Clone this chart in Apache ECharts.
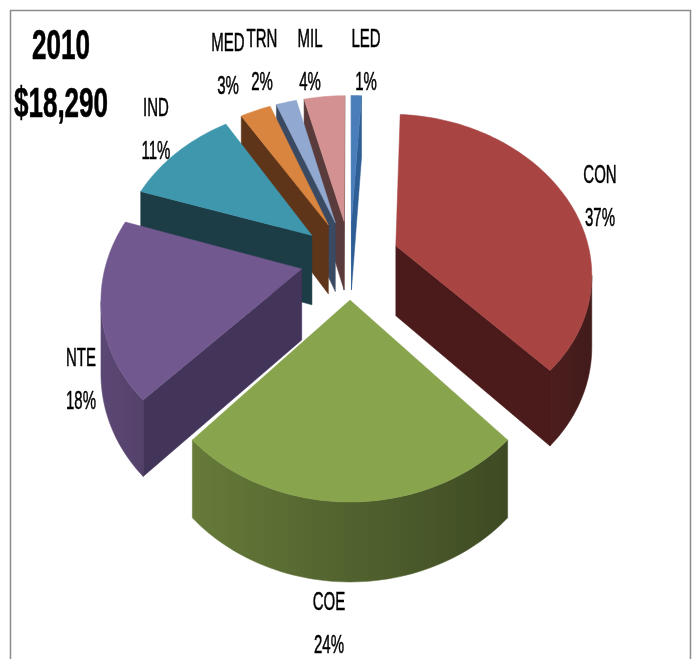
<!DOCTYPE html>
<html lang="en">

<head>
    <meta charset="UTF-8">
    <title>2010</title>
    <script src="https://cdn.jsdelivr.net/npm/echarts@6/dist/echarts.min.js"></script>
    <style>
        body {
            margin: 0;
            background: #fff;
        }

        #root {
            width: 694px;
            height: 659px;
        }
    </style>
</head>

<body>

    <div id="root"></div>
    <script>

        // slices, clockwise from 12 o'clock
        var names = ['LED', 'CON', 'COE', 'NTE', 'IND', 'MED', 'TRN', 'MIL'];
        var shares = [1, 37, 24, 18, 11, 3, 2, 4];
        var year = '2010';
        var total = '$18,290';

        var topColors = ['#4a7ebb', '#a84442', '#88a44d', '#71588f', '#3f97ae', '#da853f', '#91a9d1', '#d39291'];
        var cutColors = ['#2f5e94', '#4a1b1a', '#4d6630', '#43345a', '#1c3c46', '#5e3518', '#3a4a62', '#5a3b3b'];

        // label anchors (centre of the two-line label)
        var labelPos = [[366, 62], [600, 198], [329, 625], [81, 381], [156, 131], [228, 66], [262, 62], [310, 62]];

        // tilted view of the pie
        var view = {
            cx: 350, cy: 259,
            rx: 195, ry: 156,
            persp: 0.156,
            depth: 70.6, depthSlope: 7.5,
            explode: 0.253
        };

        var sum = shares.reduce(function (a, b) { return a + b; }, 0);
        var starts = [];
        shares.reduce(function (acc, v, i) { starts[i] = acc; return acc + v; }, 0);

        function proj(X, Z, low) {
            var s = 1 + view.persp * Z;
            return [
                view.cx + view.rx * X / s,
                view.cy - view.ry * Z / s + (low ? view.depth - view.depthSlope * Z : 0)
            ];
        }

        function area(pts) {
            var a = 0;
            for (var i = 0; i < pts.length; i++) {
                var p = pts[i], q = pts[(i + 1) % pts.length];
                a += p[0] * q[1] - q[0] * p[1];
            }
            return a / 2;
        }

        function shade(hex, f) {
            var c = echarts.color.parse(hex);
            return 'rgb(' + Math.round(c[0] * f) + ',' + Math.round(c[1] * f) + ',' + Math.round(c[2] * f) + ')';
        }

        function wallLight(t) {
            return 0.6 - 0.22 * Math.sin(t);
        }

        function renderSlice(params, api) {
            var i = params.dataIndex;
            var v = api.value(0);
            var a0 = starts[i] / sum * Math.PI * 2;
            var a1 = a0 + v / sum * Math.PI * 2;
            var mid = (a0 + a1) / 2;
            var ox = view.explode * Math.sin(mid);
            var oz = view.explode * Math.cos(mid);

            function pt(a, r, low) {
                return proj(ox + r * Math.sin(a), oz + r * Math.cos(a), low);
            }

            var apex = pt(0, 0, false);
            var base = Math.round(apex[1]) * 10;
            var children = [];

            // radial cut faces, only the ones turned to the viewer
            var sFace = [pt(a0, 0, 0), pt(a0, 1, 0), pt(a0, 1, 1), pt(a0, 0, 1)];
            var eFace = [pt(a1, 0, 0), pt(a1, 1, 0), pt(a1, 1, 1), pt(a1, 0, 1)];
            [[sFace, area(sFace) < 0], [eFace, area(eFace) > 0]].forEach(function (f) {
                if (!f[1]) return;
                children.push({
                    type: 'polygon', z2: base + 2,
                    shape: { points: f[0] },
                    style: { fill: cutColors[i], stroke: cutColors[i], lineWidth: 0.5 }
                });
            });

            // outer wall: collect the front-facing runs
            var n = Math.max(2, Math.ceil((a1 - a0) / (Math.PI / 120)));
            var runs = [], cur = null;
            for (var k = 0; k < n; k++) {
                var t0 = a0 + (a1 - a0) * k / n;
                var t1 = a0 + (a1 - a0) * (k + 1) / n;
                var quad = [pt(t0, 1, 0), pt(t1, 1, 0), pt(t1, 1, 1), pt(t0, 1, 1)];
                if (area(quad) >= 0) { cur = null; continue; }
                if (!cur) {
                    cur = { top: [quad[0]], bot: [quad[3]], ts: [t0] };
                    runs.push(cur);
                }
                cur.top.push(quad[1]);
                cur.bot.push(quad[2]);
                cur.ts.push(t1);
            }
            runs.forEach(function (run) {
                var xs = run.top.map(function (p) { return p[0]; });
                var xmin = Math.min.apply(null, xs), xmax = Math.max.apply(null, xs);
                var span = Math.max(xmax - xmin, 1);
                var stops = run.ts.map(function (t, j) {
                    return { offset: (xs[j] - xmin) / span, color: shade(topColors[i], wallLight(t)) };
                }).sort(function (a, b) { return a.offset - b.offset; });
                var grad = { type: 'linear', x: xmin, y: 0, x2: xmin + span, y2: 0, global: true, colorStops: stops };
                children.push({
                    type: 'polygon', z2: base + 1,
                    shape: { points: run.top.concat(run.bot.slice().reverse()) },
                    style: { fill: grad, stroke: grad, lineWidth: 0.5 }
                });
            });

            // top face
            var top = [apex];
            for (var j = 0; j <= n; j++) {
                top.push(pt(a0 + (a1 - a0) * j / n, 1, 0));
            }
            children.push({
                type: 'polygon', z2: base + 5,
                shape: { points: top },
                style: { fill: topColors[i], stroke: topColors[i], lineWidth: 0.5 }
            });

            return { type: 'group', children: children };
        }

        var labelFont = '25px "Liberation Sans", Arial, sans-serif';
        var labels = names.map(function (name, i) {
            return {
                type: 'text',
                x: labelPos[i][0],
                y: labelPos[i][1],
                scaleX: 0.6,
                z: 10,
                style: {
                    text: name + '\n' + shares[i] + '%',
                    font: labelFont,
                    lineHeight: 43,
                    textAlign: 'center',
                    textVerticalAlign: 'middle',
                    fill: '#000',
                    stroke: '#000',
                    lineWidth: 0.5
                }
            };
        });

        var mychart = echarts.init(document.getElementById('root'));

        mychart.setOption({
            animation: false,
            backgroundColor: '#fff',
            graphic: [{
                type: 'rect',
                shape: { x: 10.5, y: 10.5, width: 680, height: 700 },
                style: { fill: null, stroke: '#8c8c8c', lineWidth: 1.5 },
                z: 0
            }, {
                type: 'text',
                x: 61,
                y: 76,
                scaleX: 0.62,
                z: 10,
                style: {
                    text: year + '\n' + total,
                    font: 'bold 42px "Liberation Sans", Arial, sans-serif',
                    lineHeight: 58,
                    textAlign: 'center',
                    textVerticalAlign: 'middle',
                    fill: '#000',
                    stroke: '#000',
                    lineWidth: 0.6
                }
            }].concat(labels),
            series: [{
                type: 'custom',
                coordinateSystem: 'none',
                renderItem: renderSlice,
                data: shares.map(function (v) { return [v]; })
            }]
        });

    </script>

</body>

</html>
